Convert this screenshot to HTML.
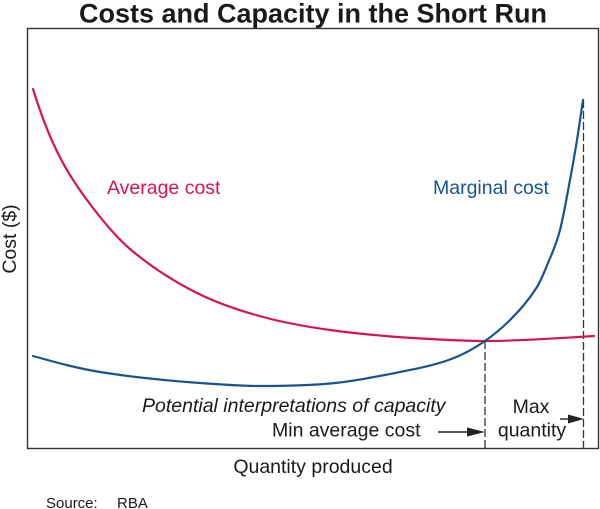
<!DOCTYPE html>
<html>
<head>
<meta charset="utf-8">
<style>
  html, body { margin: 0; padding: 0; background: #ffffff; }
  body { width: 600px; height: 509px; overflow: hidden; }
  svg { display: block; }
  text { font-family: "Liberation Sans", Arial, sans-serif; }
</style>
</head>
<body>
<svg width="600" height="509" viewBox="0 0 600 509" xmlns="http://www.w3.org/2000/svg">
  <rect x="0" y="0" width="600" height="509" fill="#ffffff"/>

  <!-- Title -->
  <text x="313" y="22.5" text-anchor="middle" font-size="27" font-weight="bold" fill="#1a1a1a">Costs and Capacity in the Short Run</text>

  <!-- Frame -->
  <rect x="27.5" y="28.5" width="571" height="420" fill="none" stroke="#333333" stroke-width="1.4"/>

  <!-- Dashed verticals -->
  <line x1="485" y1="341" x2="485" y2="448" stroke="#333333" stroke-width="1.3" stroke-dasharray="8 3"/>
  <line x1="583.5" y1="100" x2="583.5" y2="448" stroke="#333333" stroke-width="1.3" stroke-dasharray="8 3"/>

  <!-- Average cost curve -->
  <path fill="none" stroke="#d7144f" stroke-width="2.2" stroke-linecap="round"
    d="M33,89
       C39.67,110.3 46.33,128.3 53,143
       C64.33,167.9 75.67,184.7 87,200
       C101.33,219.35 115.67,236.8 130,249
       C152.33,268 174.67,281.8 197,293
       C219,304 241,311.06 263,317
       C285.33,323 307.67,326.9 330,330
       C363.33,334.67 396.67,337.17 430,339
       C448.33,340 466.67,341 485,341
       C521.33,341 557.67,338.2 594,336"/>

  <!-- Marginal cost curve -->
  <path fill="none" stroke="#165490" stroke-width="2.2" stroke-linecap="round"
    d="M33,356
       C55.33,362.25 77.67,368.43 100,372
       C133.33,377.33 166.67,380.5 200,383
       C220,384.5 240,386 260,386
       C283.33,386 306.67,385.6 330,383.5
       C353.33,381.4 376.67,376.67 400,372
       C416.67,368.67 433.33,365.5 450,359.5
       C461.67,355.3 473.33,349.17 485,341
       C493.67,334.93 502.33,327.84 511,319
       C519.67,310.16 528.33,300.87 537,287
       C540.67,281.13 544.33,272 548,263
       C552,253.2 556,245.6 560,230
       C563.33,217 566.67,197.83 570,180
       C572.33,167.52 574.67,154.47 577,140
       C579,127.6 581,113.6 583,100"/>

  <!-- Curve labels -->
  <text x="107" y="194" font-size="19.5" fill="#d7144f">Average cost</text>
  <text x="433" y="194" font-size="19.5" fill="#165490">Marginal cost</text>

  <!-- Capacity annotations -->
  <text x="142" y="412" font-size="19.5" font-style="italic" fill="#1a1a1a">Potential interpretations of capacity</text>
  <text x="272" y="436.5" font-size="19.5" fill="#1a1a1a">Min average cost</text>
  <text x="531" y="413" font-size="19.5" text-anchor="middle" fill="#1a1a1a">Max</text>
  <text x="532" y="436.5" font-size="19.5" text-anchor="middle" fill="#1a1a1a">quantity</text>

  <!-- Arrows -->
  <line x1="438" y1="432" x2="469" y2="432" stroke="#222222" stroke-width="1.4"/>
  <polygon points="485,432 467,427.5 467,436.5" fill="#222222"/>
  <line x1="560" y1="419" x2="570" y2="419" stroke="#222222" stroke-width="1.4"/>
  <polygon points="584,419 568,414.5 568,423.5" fill="#222222"/>

  <!-- Axis labels -->
  <text x="313" y="473" font-size="19.5" text-anchor="middle" fill="#1a1a1a">Quantity produced</text>
  <text transform="translate(16,239) rotate(-90)" x="0" y="0" font-size="19.5" text-anchor="middle" fill="#1a1a1a">Cost ($)</text>

  <!-- Source -->
  <text x="46" y="508" font-size="15" fill="#1a1a1a">Source:</text>
  <text x="117" y="508" font-size="15" fill="#1a1a1a">RBA</text>
</svg>
</body>
</html>
